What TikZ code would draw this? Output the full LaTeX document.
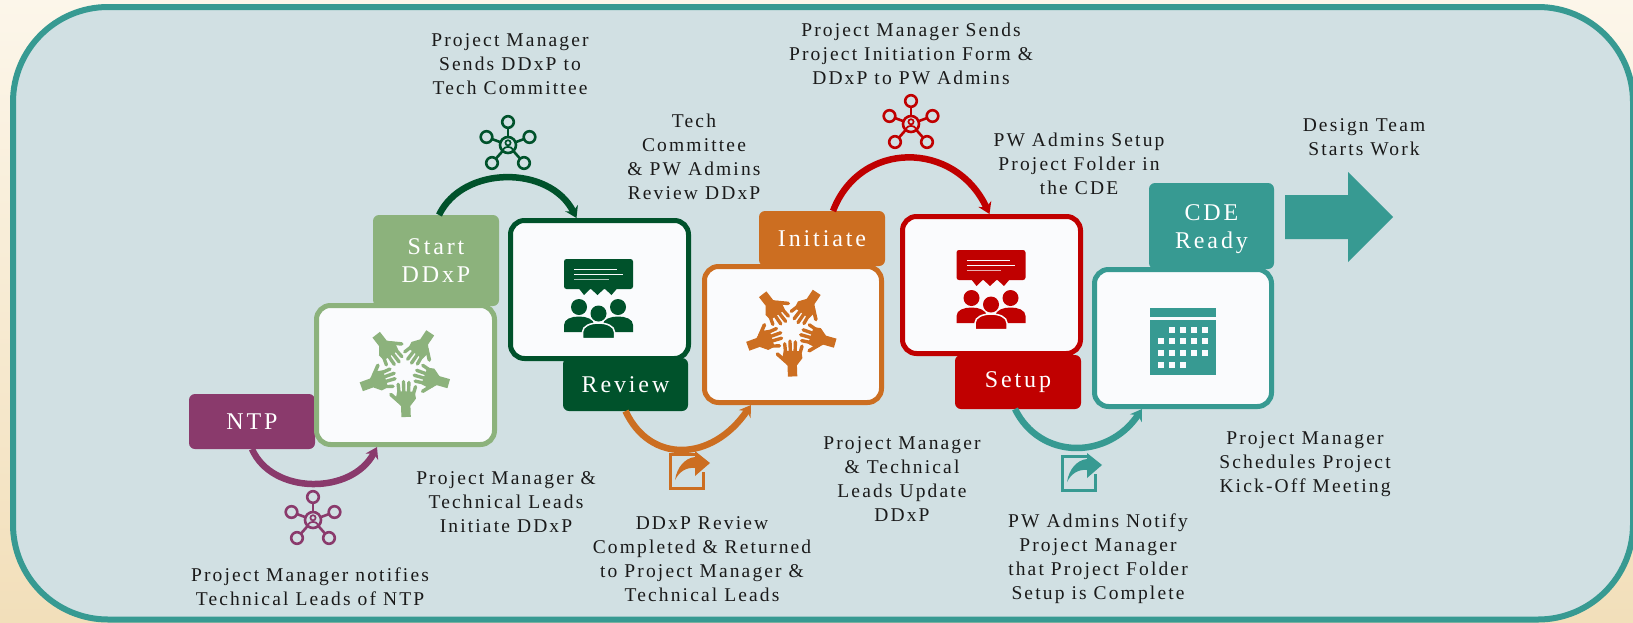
\documentclass[tikz,border=0pt]{standalone}
\usepackage{fontspec}
\setmainfont{Liberation Serif}[LetterSpace=11]
\newfontfamily\tagfont{Liberation Serif}[LetterSpace=12]
\usetikzlibrary{arrows.meta}
\definecolor{purp}{HTML}{8A3A6C}
\definecolor{lgreen}{HTML}{8CB27C}
\definecolor{dgreen}{HTML}{00522B}
\definecolor{orng}{HTML}{CC6E21}
\definecolor{crim}{HTML}{C00000}
\definecolor{teal2}{HTML}{379A92}
\definecolor{panelbg}{HTML}{D1E0E3}
\definecolor{boxfill}{HTML}{FAFBFD}
\definecolor{inkc}{HTML}{1A1A1A}
\definecolor{bgtop}{HTML}{FCF6EA}
\definecolor{bgbot}{HTML}{F2DFBA}
\tikzset{
  x=1pt,y=-1pt,
  panelbox/.style={draw=#1,line width=5pt,fill=boxfill,rounded corners=14pt,inner sep=0pt},
  tagbox/.style={fill=#1,rounded corners=6pt,inner sep=0pt,outer sep=0pt,text=white,align=center,
    font=\tagfont\fontsize{24}{28}\selectfont},
  captext/.style={text=inkc,align=center,inner sep=0pt,font=\fontsize{19.5}{24}\selectfont},
  conn/.style={draw=#1,line width=6.5pt,-{Stealth[length=11pt,width=14pt]}},
}
\newcommand{\hubicon}[2]{%
 \begin{scope}[shift={#1},color=#2,line width=2.6pt]
  \foreach \px/\py in {0/-23,-21.5/-8,21.5/-8,-16/18,16/18}{
    \draw (0,0) -- (\px,\py);
    \filldraw[fill=panelbg] (\px,\py) circle[radius=5.8];
  }
  \filldraw[fill=panelbg] (0,0) circle[radius=8];
  \draw[line width=1.7pt] (0,-2.2) circle[radius=2.6];
  \draw[line width=1.7pt] (-5,4.5) .. controls (-3,1) and (3,1) .. (5,4.5);
 \end{scope}}
\newcommand{\handsicon}[2]{%
 \begin{scope}[shift={#1},color=#2]
  \foreach \a in {2,74,146,218,290}{
   \begin{scope}[rotate=\a]
    \fill (-4.7,46) -- (-4.7,35) -- (-10,29) -- (-8,20) -- (9.5,21) -- (10.5,28) -- (4.7,35) -- (4.7,46) -- cycle;
    \draw[line width=3.6pt,line cap=round] (-6,31) -- (-14.5,23);
    \draw[line width=3.4pt,line cap=round] (-6,24) -- (-6.8,13);
    \draw[line width=3.4pt,line cap=round] (-1.4,24) -- (-1.4,10.5);
    \draw[line width=3.4pt,line cap=round] (3.2,24) -- (4,11.5);
    \draw[line width=3.4pt,line cap=round] (7.5,25) -- (10.5,16);
   \end{scope}
  }
 \end{scope}}
\newcommand{\talkicon}[2]{%
 \begin{scope}[shift={#1},color=#2]
  \fill[rounded corners=2.5pt] (-34.5,-15) rectangle (34.5,15);
  \fill (-20,14) -- (-14.5,21) -- (-8,14.5) -- (-1,21) -- (6,14.5) -- (13,21) -- (19,14) -- cycle;
  \draw[boxfill,line width=.9pt] (-24.5,-4.7) -- (18.5,-4.7);
  \draw[boxfill,line width=.9pt] (-24.5,0) -- (24,0);
  \draw[boxfill!70!#2,line width=.9pt] (-24.5,5) -- (10,5);
  \fill (-19.5,33) circle[radius=8];
  \fill (19.5,33) circle[radius=8];
  \fill (-34.5,58) -- (-34.5,51) .. controls (-34.5,45) and (-27,42.5) .. (-19.5,42.5)
     .. controls (-12,42.5) and (-5,45) .. (-4,51) -- (-4,58) -- cycle;
  \fill (34.5,58) -- (34.5,51) .. controls (34.5,45) and (27,42.5) .. (19.5,42.5)
     .. controls (12,42.5) and (5,45) .. (4,51) -- (4,58) -- cycle;
  \filldraw[draw=boxfill,line width=1.5pt] (-16,64.5) -- (-16,58) .. controls (-16,52) and (-8,49) .. (0,49)
     .. controls (8,49) and (16,52) .. (16,58) -- (16,64.5) -- cycle;
  \fill (0,39.5) circle[radius=8];
 \end{scope}}
\newcommand{\shareicon}[2]{%
 \begin{scope}[shift={#1},color=#2]
  \draw[line width=3pt] (26,1.5) -- (1.5,1.5) -- (1.5,35.5) -- (34.5,35.5) -- (34.5,19);
  \fill (6,27) .. controls (8,14) and (16,5) .. (26,4) -- (26,-2) -- (41,10) -- (26,23) -- (26,15)
     .. controls (17,14) and (10,19) .. (6,27) -- cycle;
 \end{scope}}
\begin{document}
\begin{tikzpicture}
\path[clip] (0,0) rectangle (1633,622);
\shade[top color=bgtop,bottom color=bgbot] (0,0) rectangle (1633,622);
\draw[teal2,line width=6pt,fill=panelbg,rounded corners=95pt] (13,7) rectangle (1633,619.5);

% tags
\node[tagbox=purp,minimum width=126pt,minimum height=55pt] (ntp) at (252,421.5) {NTP};
\node[tagbox=lgreen,minimum width=126pt,minimum height=91pt] (start) at (436,260.5) {Start\\DDxP};
\node[tagbox=dgreen,minimum width=125pt,minimum height=53pt] (review) at (625.5,384.5) {Review};
\node[tagbox=orng,minimum width=126pt,minimum height=55pt] (initiate) at (822,238.5) {Initiate};
\node[tagbox=crim,minimum width=126pt,minimum height=54pt] (setup) at (1018,382) {Setup};
\node[tagbox=teal2,minimum width=125pt,minimum height=86pt,text depth=0pt] (cde) at (1211.5,226) {\raisebox{-2pt}{CDE}\\\raisebox{-2pt}{Ready}};

% panels
\node[panelbox=lgreen,minimum width=178pt,minimum height=139pt] (box1) at (405.5,375) {};
\node[panelbox=dgreen,minimum width=178pt,minimum height=138pt] (box2) at (599.5,289.5) {};
\node[panelbox=orng,minimum width=177pt,minimum height=136pt] (box3) at (793,334.5) {};
\node[panelbox=crim,minimum width=178pt,minimum height=137pt] (box4) at (991.5,285) {};
\node[panelbox=teal2,minimum width=177pt,minimum height=137pt] (box5) at (1183,338) {};

% connectors
\draw[conn=purp] (ntp.south) .. controls (272,495) and (352,495) .. ([xshift=-28.5pt]box1.south);
\draw[conn=dgreen] ([xshift=3pt]start.north) .. controls (463,165) and (550,165) .. ([xshift=-23pt]box2.north);
\draw[conn=orng] (review.south) .. controls (650,464) and (712,462) .. ([xshift=-42pt]box3.south);
\draw[conn=crim] ([xshift=11pt]initiate.north) .. controls (860,140) and (955,140) .. ([xshift=-2pt]box4.north);
\draw[conn=teal2] ([xshift=-3pt]setup.south) .. controls (1040,460) and (1108,460) .. ([xshift=-41pt]box5.south);

% block arrow
\fill[teal2] (1285,195) -- (1348,195) -- (1348,172) -- (1393,217) -- (1348,262) -- (1348,239) -- (1285,239) -- cycle;

% icons
\hubicon{(313,520)}{purp}
\hubicon{(508,145)}{dgreen}
\hubicon{(911,124)}{crim}
\handsicon{(404.5,371)}{lgreen}
\handsicon{(791,330.5)}{orng}
\talkicon{(598.5,274)}{dgreen}
\talkicon{(991,265)}{crim}
\shareicon{(669,453)}{orng}
\shareicon{(1061,455)}{teal2}
\begin{scope}[teal2]
 \fill (1150,308) rectangle (1216,317);
 \fill (1150,320) rectangle (1216,375);
 \foreach \cx/\cy in {1172/330,1183/330,1194/330,1205/330,
   1161/341,1172/341,1183/341,1194/341,1205/341,
   1161/353,1172/353,1183/353,1194/353,1205/353,
   1161/365,1172/365,1183/365}
   \fill[boxfill] (\cx-3.2,\cy-3.2) rectangle (\cx+3.2,\cy+3.2);
\end{scope}

% captions
\node[captext] (c1) at (510,64) {Project Manager\\Sends DDxP to\\Tech Committee};
\node[captext] (c2) at (694,157) {Tech\\Committee\\\& PW Admins\\Review DDxP};
\node[captext] (c3) at (911,54) {Project Manager Sends\\Project Initiation Form \&\\DDxP to PW Admins};
\node[captext] (c4) at (1079,164) {PW Admins Setup\\Project Folder in\\the CDE};
\node[captext] (c5) at (1364,137) {Design Team\\Starts Work};
\node[captext] (c6) at (506,502) {Project Manager \&\\Technical Leads\\Initiate DDxP};
\node[captext] (c7) at (310,587) {Project Manager notifies\\Technical Leads of NTP};
\node[captext] (c8) at (702,559) {DDxP Review\\Completed \& Returned\\to Project Manager \&\\Technical Leads};
\node[captext] (c9) at (902,479) {Project Manager\\\& Technical\\Leads Update\\DDxP};
\node[captext] (c10) at (1098,559) {PW Admins Notify\\Project Manager\\that Project Folder\\Setup is Complete};
\node[captext] (c11) at (1305,464) {Project Manager\\Schedules Project\\Kick-Off Meeting};
\end{tikzpicture}
\end{document}
